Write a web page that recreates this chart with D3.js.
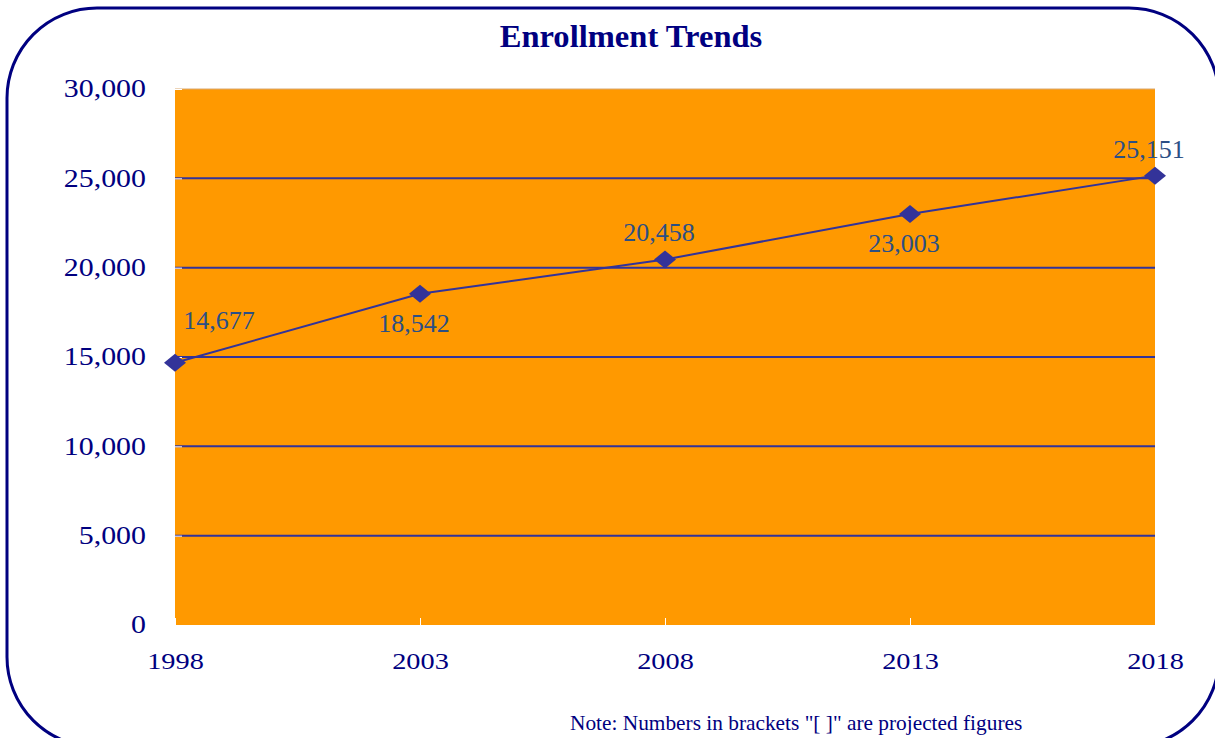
<!DOCTYPE html>
<html>
<head>
<meta charset="utf-8">
<style>
  body { margin: 0; background: #fff; font-family: "Liberation Serif", "DejaVu Serif", serif; }
  svg { display: block; }
</style>
</head>
<body>
<script src="https://d3js.org/d3.v7.min.js"></script>
<script>
// data
var years = ["1998", "2003", "2008", "2013", "2018"];
var enrollment = [14677, 18542, 20458, 23003, 25151];
var labelPos = ["above-right", "below", "above", "below", "above"];
var yTicks = [0, 5000, 10000, 15000, 20000, 25000, 30000];

var W = 1215, H = 738;
var plot = {left: 175, right: 1155, top: 89, bottom: 625};

var svg = d3.select("body").append("svg")
    .attr("width", W)
    .attr("height", H);

// the original fonts are wider than Times, so widen text a bit
function stretch(sel, k) {
  sel.each(function() {
    var len = this.getComputedTextLength();
    d3.select(this)
      .attr("textLength", len * k)
      .attr("lengthAdjust", "spacingAndGlyphs");
  });
}

// rounded frame
svg.append("rect")
    .attr("x", 7).attr("y", 8)
    .attr("width", 1212).attr("height", 739)
    .attr("rx", 90).attr("ry", 90)
    .attr("fill", "#fff")
    .attr("stroke", "#000080")
    .attr("stroke-width", 3);

var x = d3.scalePoint().domain(years).range([plot.left, plot.right]);
var y = d3.scaleLinear().domain([0, 30000]).range([plot.bottom, plot.top]);
var fmt = d3.format(",");

// plot background
svg.append("rect")
    .attr("x", plot.left).attr("y", plot.top)
    .attr("width", plot.right - plot.left)
    .attr("height", plot.bottom - plot.top)
    .attr("fill", "#ff9900");
svg.append("line")
    .attr("x1", plot.left).attr("x2", plot.right)
    .attr("y1", plot.top).attr("y2", plot.top)
    .attr("stroke", "#d9a870").attr("stroke-width", 1);

// gridlines
svg.append("g").selectAll("line")
    .data(yTicks.filter(function(d) { return d > 0 && d < 30000; }))
  .enter().append("line")
    .attr("x1", plot.left).attr("x2", plot.right)
    .attr("y1", function(d) { return y(d); })
    .attr("y2", function(d) { return y(d); })
    .attr("stroke", "#333399")
    .attr("stroke-width", 2);

// y axis
var yAxis = svg.append("g")
    .attr("transform", "translate(" + plot.left + ",0)")
    .call(d3.axisLeft(y).tickValues(yTicks).tickFormat(fmt).tickSizeInner(-7).tickSizeOuter(0).tickPadding(29));
yAxis.select(".domain").remove();
yAxis.selectAll("line").attr("stroke", "#fff");
yAxis.selectAll("text")
    .attr("fill", "#000080")
    .style("font-family", "'Liberation Serif', serif")
    .style("font-size", "24.5px")
    .call(stretch, 1.22);

// x axis
var xAxis = svg.append("g")
    .attr("transform", "translate(0," + plot.bottom + ")")
    .call(d3.axisBottom(x).tickSizeInner(-7).tickSizeOuter(0).tickPadding(28));
xAxis.select(".domain").remove();
xAxis.selectAll("line").attr("stroke", "#fff");
xAxis.selectAll("text")
    .attr("fill", "#000080")
    .style("font-family", "'Liberation Serif', serif")
    .style("font-size", "23px")
    .call(stretch, 1.23);

// line
var pts = years.map(function(d, i) { return {year: d, value: enrollment[i], pos: labelPos[i]}; });
svg.append("path")
    .datum(pts)
    .attr("fill", "none")
    .attr("stroke", "#333399")
    .attr("stroke-width", 2)
    .attr("d", d3.line()
      .x(function(d) { return x(d.year); })
      .y(function(d) { return y(d.value); }));

// diamond markers
svg.append("g").selectAll("path")
    .data(pts)
  .enter().append("path")
    .attr("transform", function(d) { return "translate(" + x(d.year) + "," + y(d.value) + ")"; })
    .attr("d", "M0,-9L11,0L0,9L-11,0Z")
    .attr("fill", "#333399");

// value labels
svg.append("g").selectAll("text")
    .data(pts)
  .enter().append("text")
    .attr("x", function(d) { return x(d.year) + (d.pos === "above-right" ? 44 : -6); })
    .attr("y", function(d) {
      if (d.pos === "below") return y(d.value) + 38;
      if (d.pos === "above-right") return y(d.value) - 34;
      return y(d.value) - 18;
    })
    .attr("text-anchor", "middle")
    .attr("fill", "#2b4f85")
    .style("font-size", "26px")
    .text(function(d) { return fmt(d.value); });

// title
svg.append("text")
    .attr("x", 631).attr("y", 47)
    .attr("text-anchor", "middle")
    .attr("fill", "#000080")
    .style("font-size", "31px")
    .style("font-weight", "bold")
    .text("Enrollment Trends")
    .call(stretch, 1.05);

// note
svg.append("text")
    .attr("x", 570).attr("y", 730)
    .attr("fill", "#000080")
    .style("font-size", "21px")
    .text("Note: Numbers in brackets \"[ ]\" are projected figures")
    .call(stretch, 1.016);
</script>
</body>
</html>
